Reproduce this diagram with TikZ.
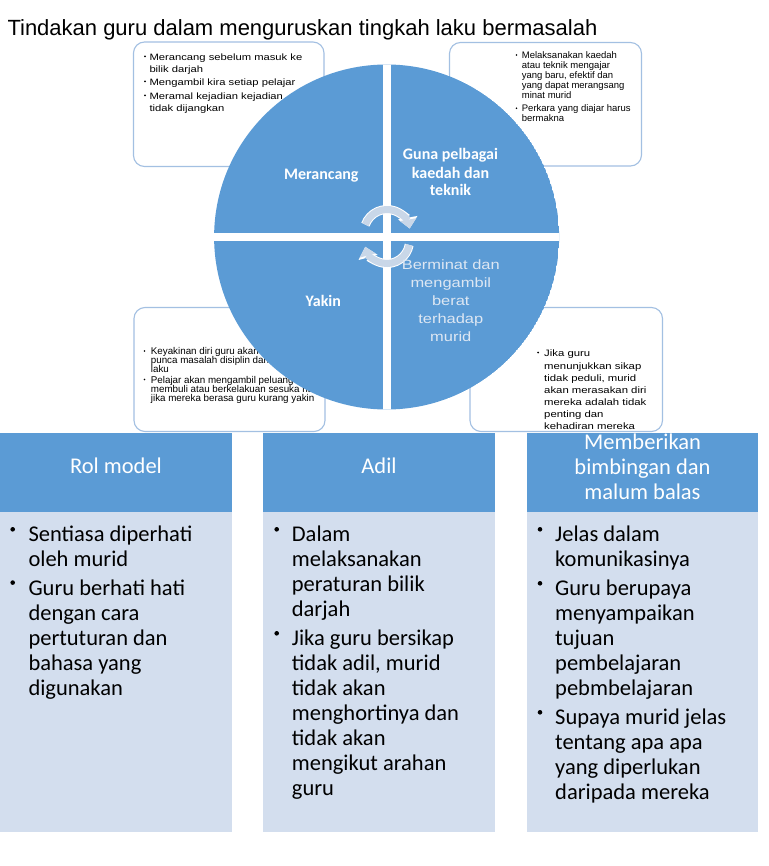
\documentclass[tikz,border=0pt]{standalone}
\usepackage{fontspec}
\setmainfont{Liberation Sans}
\newfontfamily\calibri{Carlito}
\newfontfamily\arialw[FakeStretch=1.22]{Liberation Sans}
\newfontfamily\arialn{Liberation Sans}
\usetikzlibrary{arrows.meta}
\definecolor{blueA}{HTML}{5B9BD5}
\definecolor{bodyL}{HTML}{D3DEEE}
\definecolor{boxB}{HTML}{A3C0E2}
\definecolor{arrF}{HTML}{C9D7E8}
\definecolor{bermC}{HTML}{DDE7F3}
\tikzset{
  rbox/.style={draw=boxB, line width=1.1pt, fill=white, rounded corners=11pt},
  tltxt/.style={font=\arialw\fontsize{9.2}{11}\selectfont, anchor=base west, inner sep=0pt},
  trtxt/.style={font=\arialn\fontsize{9.5}{10}\selectfont, anchor=base west, inner sep=0pt},
  bltxt/.style={font=\arialn\fontsize{9.8}{10}\selectfont, anchor=base west, inner sep=0pt},
  brtxt/.style={font=\arialw\fontsize{9.3}{11}\selectfont, anchor=base west, inner sep=0pt},
  qlab/.style={font=\calibri\bfseries\fontsize{16}{18}\selectfont, text=white, anchor=base, inner sep=0pt},
  bermtxt/.style={font=\arialw\fontsize{13.5}{16}\selectfont, text=bermC, anchor=base, inner sep=0pt},
  colhead/.style={font=\calibri\fontsize{22.5}{25}\selectfont, text=white, anchor=base, inner sep=0pt},
  coltxt/.style={font=\calibri\fontsize{22.5}{25}\selectfont, text=black, anchor=base west, inner sep=0pt},
  cycarr/.style={line width=7pt, draw=arrF, -{Triangle[width=16pt,length=9pt]}},
  cycout/.style={line width=9pt, draw=white, -{Triangle[width=19pt,length=11pt]}},
}
\begin{document}
\begin{tikzpicture}[x=1pt,y=-1pt]
\useasboundingbox[fill=white] (0,0) rectangle (768,866);

% title
\node[font=\arialn\fontsize{22}{24}\selectfont, anchor=base west, inner sep=0pt] (title) at (7.3,36) {Tindakan guru dalam menguruskan tingkah laku bermasalah};

% rounded text boxes
\draw[rbox] (133.5,42) rectangle (324,166.5);
\draw[rbox] (449.5,42.5) rectangle (641.5,166);
\draw[rbox] (134,307.5) rectangle (325,431.5);
\draw[rbox] (470,307.5) rectangle (662.5,431.5);

% top-left box text
\foreach \y/\t [count=\i] in {61/Merancang sebelum masuk ke, 72.5/bilik darjah, 86/Mengambil kira setiap pelajar, 100/Meramal kejadian kejadian, 111.5/tidak dijangkan}
  \node[tltxt] (tl\i) at (149.3,\y) {\t};
\foreach \y in {56.5,81.5,95.5} \fill (145,\y) circle (1pt);

% top-right box text
\foreach \y/\t [count=\i] in {58.7/Melaksanakan kaedah, 68.7/atau teknik mengajar, 78.7/{yang baru, efektif dan}, 88.7/yang dapat merangsang, 98.7/minat murid, 112/Perkara yang diajar harus, 122/bermakna}
  \node[trtxt] (tr\i) at (521.7,\y) {\t};
\foreach \y in {55,108.3} \fill (516.5,\y) circle (0.9pt);

% bottom-left box text
\foreach \y/\t [count=\i] in {354.7/Keyakinan diri guru akan, 363.7/punca masalah disiplin dan, 372.5/laku, 383/Pelajar akan mengambil peluang untuk, 392/membuli atau berkelakuan sesuka hati, 401.3/jika mereka berasa guru kurang yakin}
  \node[bltxt] (bl\i) at (150.7,\y) {\t};
\foreach \y in {351,379.5} \fill (144.5,\y) circle (0.9pt);

% bottom-right box text
\foreach \y/\t [count=\i] in {356.7/Jika guru, 369/menunjukkan sikap, 381/{tidak peduli, murid}, 393/akan merasakan diri, 405/mereka adalah tidak, 417.3/penting dan, 429/kehadiran mereka}
  \node[brtxt] (br\i) at (544,\y) {\t};
\fill (538,352.5) circle (1pt);

% circle with four quadrants
\begin{scope}
  \clip (386.6,237) circle (172.5);
  \fill[blueA] (386.6,237) circle (172.5);
  \fill[white] (382.6,50) rectangle (390.6,420);
  \fill[white] (200,233) rectangle (580,241);
\end{scope}

\node[qlab] (q1) at (321.3,179.3) {Merancang};
\node[qlab] (q2a) at (450.5,160) {Guna pelbagai};
\node[qlab] (q2b) at (450.5,178.3) {kaedah dan};
\node[qlab] (q2c) at (450.5,196) {teknik};
\node[qlab] (q3) at (323.3,306) {Yakin};

% cycle arrows
\draw[cycout] ([shift={(200:23)}]387,232.5) arc[start angle=200, end angle=350, radius=23];
\draw[cycarr] ([shift={(200:23)}]387,232.5) arc[start angle=200, end angle=350, radius=23];
\draw[cycout] ([shift={(10:22.5)}]387,241) arc[start angle=10, end angle=165, radius=22.5];
\draw[cycarr] ([shift={(10:22.5)}]387,241) arc[start angle=10, end angle=165, radius=22.5];

\foreach \y/\t [count=\i] in {269.3/Berminat dan, 287.3/mengambil, 305.7/berat, 323.3/terhadap, 341/murid}
  \node[bermtxt] (q4l\i) at (450.8,\y) {\t};

% bottom columns
\fill[blueA] (0,432.5) rectangle (231.7,512.3);
\fill[bodyL] (0,512.3) rectangle (231.7,831.7);
\fill[blueA] (263.3,432.5) rectangle (495,512.3);
\fill[bodyL] (263.3,512.3) rectangle (495,831.7);
\fill[blueA] (526.7,432.5) rectangle (758.3,512.3);
\fill[bodyL] (526.7,512.3) rectangle (758.3,831.7);

\node[colhead] (h1) at (116,473.3) {Rol model};
\node[colhead] (h2) at (379,473.3) {Adil};
\node[colhead] (h3a) at (642.5,449) {Memberikan};
\node[colhead] (h3b) at (642.5,474) {bimbingan dan};
\node[colhead] (h3c) at (642.5,499) {malum balas};

\foreach \y/\t [count=\i] in {541.7/Sentiasa diperhati, 566.7/oleh murid, 595/Guru berhati hati, 620/dengan cara, 645.5/pertuturan dan, 670.5/bahasa yang, 695.5/digunakan}
  \node[coltxt] (c1l\i) at (28.3,\y) {\t};
\foreach \y in {529.3,582.6} \fill (12.7,\y) circle (2.3pt);

\foreach \y/\t [count=\i] in {541.7/Dalam, 566.7/melaksanakan, 591.7/peraturan bilik, 616.7/darjah, 645.7/Jika guru bersikap, 670.7/{tidak adil, murid}, 695.7/tidak akan, 720.7/menghortinya dan, 745.7/tidak akan, 770.7/mengikut arahan, 795.7/guru}
  \node[coltxt] (c2l\i) at (291.7,\y) {\t};
\foreach \y in {529.3,633.3} \fill (276.7,\y) circle (2.3pt);

\foreach \y/\t [count=\i] in {541.7/Jelas dalam, 566.7/komunikasinya, 595.7/Guru berupaya, 620.7/menyampaikan, 645.7/tujuan, 670.7/pembelajaran, 695.7/pebmbelajaran, 724.7/Supaya murid jelas, 749.7/tentang apa apa, 774.7/yang diperlukan, 799.7/daripada mereka}
  \node[coltxt] (c3l\i) at (555,\y) {\t};
\foreach \y in {529.3,583.3,712.3} \fill (540,\y) circle (2.3pt);
\end{tikzpicture}
\end{document}
